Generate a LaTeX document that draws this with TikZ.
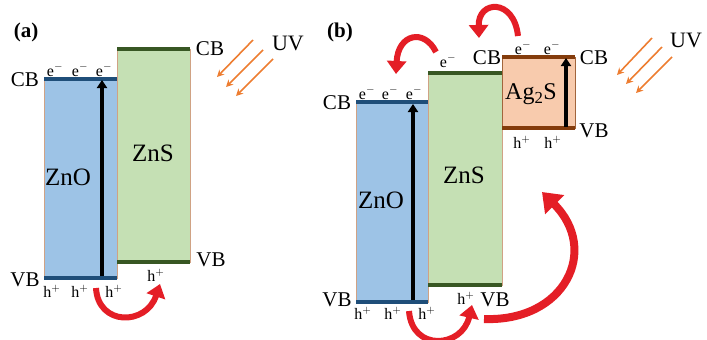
\documentclass[tikz,border=0pt]{standalone}
\usepackage{fontspec}
\setmainfont{Liberation Serif}
\newfontfamily\tnr{Liberation Serif}
\usetikzlibrary{arrows.meta}
\definecolor{znofill}{HTML}{9DC3E6}
\definecolor{znoline}{HTML}{1F4E79}
\definecolor{znsfill}{HTML}{C5E0B4}
\definecolor{znsline}{HTML}{385723}
\definecolor{agfill}{HTML}{F8CBAD}
\definecolor{agline}{HTML}{843C0C}
\definecolor{bordc}{HTML}{D0A284}
\definecolor{arrred}{HTML}{E41E26}
\definecolor{uvorange}{HTML}{ED7D31}
\tikzset{
  bandbox/.style={inner sep=0pt, outer sep=0pt, draw=bordc, line width=0.8pt},
  bandedge/.style={line width=4pt},
  lbl/.style={font=\tnr\fontsize{21}{21}\selectfont, inner sep=0pt},
  carrier/.style={font=\tnr\fontsize{16}{16}\selectfont, inner sep=0pt},
  matl/.style={font=\tnr\fontsize{25}{25}\selectfont, inner sep=0pt},
  panel/.style={font=\tnr\fontsize{21}{21}\selectfont\bfseries, inner sep=0pt},
  uvlbl/.style={font=\tnr\fontsize{22}{22}\selectfont, inner sep=0pt},
  excite/.style={line width=4.5pt, -{Triangle[width=10pt,length=8pt]}},
  transfer/.style={draw=arrred, line width=6pt, -{Triangle[width=19pt,length=13pt]}},
  bigtransfer/.style={draw=arrred, line width=8pt, -{Triangle[width=26pt,length=18pt]}},
  uvray/.style={draw=uvorange, line width=1.6pt, -{Stealth[length=7pt,width=7pt]}},
}
\begin{document}
\begin{tikzpicture}[x=1pt,y=-1pt]
\path[use as bounding box] (0,0) rectangle (707,340);

% ---------------- panel (a) ----------------
\node[panel] (pa) at (26,32) {(a)};
\node[bandbox, fill=znofill, minimum width=73pt, minimum height=199pt] (znoa) at (80.5,178.5) {};
\node[bandbox, fill=znsfill, minimum width=73pt, minimum height=213pt] (znsa) at (153.5,155.5) {};
\draw[bandedge, znoline] (znoa.north west) -- (znoa.north east);
\draw[bandedge, znoline] (znoa.south west) -- (znoa.south east);
\draw[bandedge, znsline] (znsa.north west) -- (znsa.north east);
\draw[bandedge, znsline] (znsa.south west) -- (znsa.south east);
\node[matl] (tznoa) at (68,177) {ZnO};
\node[matl] (tznsa) at (153,153) {ZnS};
\coordinate (xa0) at (102,276);
\coordinate (xa1) at (102,80);
\draw[excite] (xa0) -- (xa1);

\node[lbl] (cba) at (25,80) {CB};
\node[lbl] (vba) at (25,280) {VB};
\node[lbl] (cbsa) at (210,49) {CB};
\node[lbl] (vbsa) at (211,260) {VB};
\node[carrier] (ea1) at (55,70) {e$^{-}$};
\node[carrier] (ea2) at (80,70) {e$^{-}$};
\node[carrier] (ea3) at (104,70) {e$^{-}$};
\node[carrier] (ha1) at (52,291) {h$^{+}$};
\node[carrier] (ha2) at (80,291) {h$^{+}$};
\node[carrier] (ha3) at (114,291) {h$^{+}$};
\node[carrier] (ha4) at (156,275) {h$^{+}$};

\coordinate (ra0) at (96,288);
\coordinate (ra1) at (160,284);
\draw[transfer] (ra0) .. controls (98,326) and (146,326) .. (ra1);

\node[uvlbl] (uva) at (288,43) {UV};
\coordinate (ua1s) at (253,40); \coordinate (ua1e) at (217,77);
\coordinate (ua2s) at (263,50); \coordinate (ua2e) at (226,87);
\coordinate (ua3s) at (273,59); \coordinate (ua3e) at (236,96);
\draw[uvray] (ua1s) -- (ua1e);
\draw[uvray] (ua2s) -- (ua2e);
\draw[uvray] (ua3s) -- (ua3e);

% ---------------- panel (b) ----------------
\node[panel] (pb) at (340,32) {(b)};
\node[bandbox, fill=znofill, minimum width=72pt, minimum height=200pt] (znob) at (392,202) {};
\node[bandbox, fill=znsfill, minimum width=74pt, minimum height=212pt] (znsb) at (465,179) {};
\node[bandbox, fill=agfill, draw=agline!60!bordc, minimum width=73pt, minimum height=71pt] (agb) at (538.5,92.5) {};
\draw[bandedge, znoline] (znob.north west) -- (znob.north east);
\draw[bandedge, znoline] (znob.south west) -- (znob.south east);
\draw[bandedge, znsline] (znsb.north west) -- (znsb.north east);
\draw[bandedge, znsline] (znsb.south west) -- (znsb.south east);
\draw[bandedge, agline] (agb.north west) -- (agb.north east);
\draw[bandedge, agline] (agb.south west) -- (agb.south east);
\node[matl] (tznob) at (381,200) {ZnO};
\node[matl] (tznsb) at (464,175) {ZnS};
\node[font=\tnr\fontsize{24}{24}\selectfont, inner sep=0pt] (tagb) at (531,94) {Ag\textsubscript{2}S};
\coordinate (xb0) at (413,300);
\coordinate (xb1) at (413,104);
\draw[excite] (xb0) -- (xb1);
\coordinate (xc0) at (566,127);
\coordinate (xc1) at (566,58);
\draw[excite] (xc0) -- (xc1);

\node[lbl] (cbb) at (337,103) {CB};
\node[lbl] (vbb) at (337,300) {VB};
\node[lbl] (cbsb) at (487,58) {CB};
\node[lbl] (vbsb) at (495,300) {VB};
\node[lbl] (cbag) at (594,58) {CB};
\node[lbl] (vbag) at (594,131) {VB};
\node[carrier] (eb1) at (367,93) {e$^{-}$};
\node[carrier] (eb2) at (390,93) {e$^{-}$};
\node[carrier] (eb3) at (414,93) {e$^{-}$};
\node[carrier] (eb4) at (448,61) {e$^{-}$};
\node[carrier] (eb5) at (523,48) {e$^{-}$};
\node[carrier] (eb6) at (552,48) {e$^{-}$};
\node[carrier] (hb1) at (363,313) {h$^{+}$};
\node[carrier] (hb2) at (393,313) {h$^{+}$};
\node[carrier] (hb3) at (427,313) {h$^{+}$};
\node[carrier] (hb4) at (466,298) {h$^{+}$};
\node[carrier] (hb5) at (522,142) {h$^{+}$};
\node[carrier] (hb6) at (553,142) {h$^{+}$};

\coordinate (rb0) at (409,311);
\coordinate (rb1) at (472,305);
\draw[transfer] (rb0) .. controls (412,352) and (462,348) .. (rb1);
\coordinate (rc0) at (484,319);
\coordinate (rc1) at (542,192);
\draw[bigtransfer] (rc0) .. controls (565,322) and (600,250) .. (rc1);
\coordinate (rd0) at (436,52);
\coordinate (rd1) at (396,74);
\draw[transfer] (rd0) .. controls (424,28) and (398,34) .. (rd1);
\coordinate (re0) at (518,36);
\coordinate (re1) at (479,38);
\draw[transfer] (re0) .. controls (514,-2) and (478,0) .. (re1);

\node[uvlbl] (uvb) at (686,40) {UV};
\coordinate (ub1s) at (652,38); \coordinate (ub1e) at (617,75);
\coordinate (ub2s) at (662,47); \coordinate (ub2e) at (626,84);
\coordinate (ub3s) at (672,57); \coordinate (ub3e) at (636,93);
\draw[uvray] (ub1s) -- (ub1e);
\draw[uvray] (ub2s) -- (ub2e);
\draw[uvray] (ub3s) -- (ub3e);
\end{tikzpicture}
\end{document}
